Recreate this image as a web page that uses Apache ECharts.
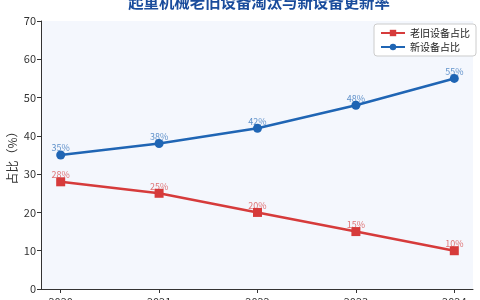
<!DOCTYPE html>
<html><head><meta charset="utf-8">
<script src="https://cdn.jsdelivr.net/npm/echarts@6/dist/echarts.min.js"></script>
<style>html,body{margin:0;padding:0;background:#fff}#c{width:480px;height:300px}</style>
</head><body><div id="c"></div>
<script>
const years = [2020, 2021, 2022, 2023, 2024];
const oldShare = [28, 25, 20, 15, 10];
const newShare = [35, 38, 42, 48, 55];
const yTicks = [0, 10, 20, 30, 40, 50, 60, 70];
const titleText = '起重机械老旧设备淘汰与新设备更新率';
const seriesNames = ['老旧设备占比', '新设备占比'];
const yName = '占比（%）';

const font = '"Noto Sans CJK SC", "Noto Sans", sans-serif';
const chart = echarts.init(document.getElementById('c'));
chart.setOption({
  animation: false,
  textStyle: {fontFamily: font},
  title: {text: titleText, left: 254, textAlign: 'center', top: -11,
    textStyle: {fontSize: 15.4, fontWeight: 'bold', color: '#1a4c9c', fontFamily: font}},
  legend: {data: seriesNames, orient: 'vertical', right: 4, top: 24,
    itemWidth: 24, itemHeight: 8, itemGap: 4, padding: [4, 6],
    borderColor: '#cccccc', borderWidth: 1, borderRadius: 3, backgroundColor: '#ffffff',
    textStyle: {fontSize: 10, color: '#222', fontFamily: font}},
  grid: {left: 41, right: 7, top: 21, bottom: 11, show: true, backgroundColor: '#f4f7fd', borderWidth: 0,
    containLabel: false, outerBoundsMode: 'none'},
  xAxis: {type: 'value', min: 2019.8, max: 2024.19,
    axisLine: {show: true, lineStyle: {color: '#333'}},
    axisTick: {show: true, length: 4, customValues: years, lineStyle: {color: '#333'}},
    axisLabel: {customValues: years, fontSize: 11, color: '#333', margin: 7, formatter: v => String(v)},
    splitLine: {show: false}},
  yAxis: {type: 'value', min: 0, max: 70, interval: 10, name: yName, nameLocation: 'middle', nameGap: 23,
    nameMoveOverlap: false,
    nameTextStyle: {fontSize: 12, color: '#333', fontFamily: font},
    axisLine: {show: true, lineStyle: {color: '#333'}},
    axisTick: {show: true, length: 4, lineStyle: {color: '#333'}},
    axisLabel: {fontSize: 11, color: '#333', margin: 5},
    splitLine: {show: false}},
  series: [
    {name: seriesNames[0], type: 'line', data: years.map((y, i) => [y, oldShare[i]]),
      symbol: 'rect', symbolSize: 9, lineStyle: {width: 2.5, color: '#d63b3b'}, itemStyle: {color: '#d63b3b'},
      label: {show: true, position: 'top', distance: -2, fontSize: 9, color: 'rgba(214,59,59,0.7)', formatter: p => p.value[1] + '%'}},
    {name: seriesNames[1], type: 'line', data: years.map((y, i) => [y, newShare[i]]),
      symbol: 'circle', symbolSize: 9, lineStyle: {width: 2.5, color: '#1f65b4'}, itemStyle: {color: '#1f65b4'},
      label: {show: true, position: 'top', distance: -2, fontSize: 9, color: 'rgba(31,101,180,0.7)', formatter: p => p.value[1] + '%'}}
  ]
});
</script></body></html>
